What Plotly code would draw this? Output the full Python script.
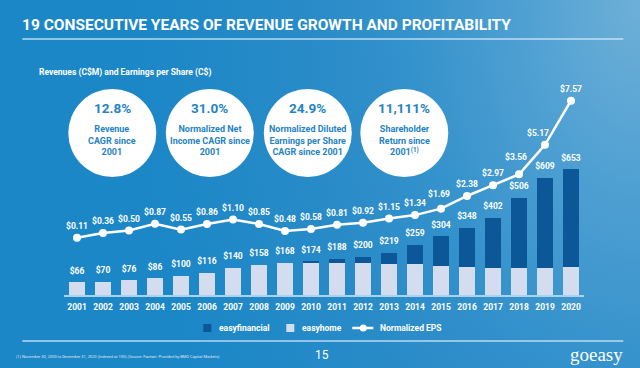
import base64
import plotly.graph_objects as go

# ---------------- data ----------------
years = list(range(2001, 2021))
year_labels = [str(y) for y in years]
revenue_total = [66, 70, 76, 86, 100, 116, 140, 158, 168, 174,
                 188, 200, 219, 259, 304, 348, 402, 506, 609, 653]
easyhome = [66, 70, 76, 86, 100, 116, 140, 158, 168, 171,
            165, 165, 161, 159, 152, 145, 140, 140, 142, 146]
easyfinancial = [0, 0, 0, 0, 0, 0, 0, 0, 0, 3,
                 23, 35, 58, 100, 152, 203, 262, 366, 467, 507]
eps = [0.11, 0.36, 0.50, 0.87, 0.55, 0.86, 1.10, 0.85, 0.48, 0.58,
       0.81, 0.92, 1.15, 1.34, 1.69, 2.38, 2.97, 3.56, 5.17, 7.57]
revenue_labels = ["$%d" % v for v in revenue_total]
eps_labels = ["$%.2f" % v for v in eps]

kpi_values = ["12.8%", "31.0%", "24.9%", "11,111%"]
kpi_texts = ["Revenue<br>CAGR since<br>2001",
             "Normalized Net<br>Income CAGR since<br>2001",
             "Normalized Diluted<br>Earnings per Share<br>CAGR since 2001",
             "Shareholder<br>Return since<br>2001<sup>(1)</sup>"]

title = "19 CONSECUTIVE YEARS OF REVENUE GROWTH AND PROFITABILITY"
subtitle = "Revenues (C$M) and Earnings per Share (C$)"
footnote = ("(1) November 30, 2000 to December 31, 2020 (Indexed at 100) "
            "(Source: Factset. Provided by BMO Capital Markets)")

# ---------------- geometry ----------------
W, H = 640, 368
L, R, T, B = 63.7, 56.3, 90, 73
PW, PH = W - L - R, H - T - B
REV_RANGE = [0, PH / 0.1925]
EPS_RANGE = [-(H - B - 239.7) / 18.36, (239.7 - T) / 18.36]

FONT = "Roboto, Lato, sans-serif"
WHITE = "#ffffff"
CIRCLE_TXT = "#2583c4"
DARK = "#0b5797"
LIGHT = "#d4dcef"


def px(x):
    return (x - L) / PW


def py(y):
    return (H - B - y) / PH


# background gradient as inline svg
svg = ('<svg xmlns="http://www.w3.org/2000/svg" width="640" height="368" '
       'viewBox="0 0 640 368" preserveAspectRatio="none"><defs>'
       '<radialGradient id="g" gradientUnits="userSpaceOnUse" cx="640" cy="0" r="500" '
       'gradientTransform="translate(640,0) scale(1,1.6) translate(-640,0)">'
       '<stop offset="0" stop-color="#6eb0d8"/>'
       '<stop offset="0.25" stop-color="#4d9fd2"/>'
       '<stop offset="0.48" stop-color="#3391cb"/>'
       '<stop offset="0.67" stop-color="#288bc8"/>'
       '<stop offset="1" stop-color="#1c87c7"/>'
       '</radialGradient></defs><rect width="640" height="368" fill="url(#g)"/></svg>')
svg_uri = "data:image/svg+xml;base64," + base64.b64encode(svg.encode()).decode()

fig = go.Figure()

fig.add_trace(go.Bar(x=years, y=easyhome, name="easyhome", marker_color=LIGHT,
                     marker_line_width=0, width=0.65, showlegend=False,
                     hovertemplate="%{x}: $%{y}M<extra>easyhome</extra>"))
fig.add_trace(go.Bar(x=years, y=easyfinancial, name="easyfinancial", marker_color=DARK,
                     marker_line_width=0, width=0.65, showlegend=False,
                     hovertemplate="%{x}: $%{y}M<extra>easyfinancial</extra>"))
fig.add_trace(go.Scatter(x=years, y=revenue_total, mode="markers+text", text=revenue_labels,
                         textposition="top center",
                         marker=dict(size=9, color="rgba(0,0,0,0)"),
                         textfont=dict(family=FONT, size=8.5, color=WHITE, weight="bold"),
                         showlegend=False, hoverinfo="skip"))
fig.add_trace(go.Scatter(x=years, y=eps, yaxis="y2", mode="lines+markers", name="Normalized EPS",
                         line=dict(color=WHITE, width=2.5),
                         marker=dict(size=8, color=WHITE), showlegend=False,
                         hovertemplate="%{x}: $%{y:.2f}<extra>EPS</extra>"))

# EPS labels (small nudges where the line would cross the label)
nudge_x = {2015: -2, 2018: -3, 2019: -7}
nudge_y = {2015: 3, 2018: 5}
annotations = []
for yr, v, lab in zip(years, eps, eps_labels):
    annotations.append(dict(x=yr, y=v, xref="x", yref="y2", text=lab, showarrow=False,
                            xshift=nudge_x.get(yr, 0), yshift=12 + nudge_y.get(yr, 0),
                            font=dict(family=FONT, size=8.5, color=WHITE, weight="bold")))


def ann(x, y, text, size, color=WHITE, xanchor="left", weight="bold", family=FONT):
    annotations.append(dict(x=px(x), y=py(y), xref="paper", yref="paper", text=text,
                            showarrow=False, xanchor=xanchor, yanchor="middle",
                            font=dict(family=family, size=size, color=color, weight=weight)))


ann(20, 25, title, 15.5)
ann(37, 72.5, subtitle, 8.5)

shapes = []
shapes.append(dict(type="line", xref="paper", yref="paper", x0=px(22), x1=px(623),
                   y0=py(39), y1=py(39), line=dict(color="rgba(220,238,250,0.8)", width=1.5)))
shapes.append(dict(type="line", xref="paper", yref="paper", x0=px(22), x1=px(623),
                   y0=py(341), y1=py(341), line=dict(color="rgba(220,238,250,0.8)", width=1.5)))

centers = [112, 209.5, 307.5, 404]
for cx, val, txt in zip(centers, kpi_values, kpi_texts):
    r = 44
    shapes.append(dict(type="circle", xref="paper", yref="paper", x0=px(cx - r), x1=px(cx + r),
                       y0=py(133 + r), y1=py(133 - r), fillcolor=WHITE, line_width=0, layer="below"))
    ann(cx, 108, val, 13.5, color=CIRCLE_TXT, xanchor="center")
    ann(cx, 140, txt, 9, color=CIRCLE_TXT, xanchor="center")

# legend (custom)
shapes.append(dict(type="rect", xref="paper", yref="paper", x0=px(203), x1=px(211),
                   y0=py(332), y1=py(324), fillcolor=DARK, line_width=0))
ann(217, 328, "easyfinancial", 8.5)
shapes.append(dict(type="rect", xref="paper", yref="paper", x0=px(286), x1=px(294),
                   y0=py(332), y1=py(324), fillcolor=LIGHT, line_width=0))
ann(300, 328, "easyhome", 8.5)
shapes.append(dict(type="line", xref="paper", yref="paper", x0=px(352), x1=px(373),
                   y0=py(328), y1=py(328), line=dict(color=WHITE, width=2.5)))
shapes.append(dict(type="circle", xref="paper", yref="paper", x0=px(359.5), x1=px(366.5),
                   y0=py(331.5), y1=py(324.5), fillcolor=WHITE, line_width=0))
ann(378, 328, "Normalized EPS", 8.5)

# footer
ann(14, 356, footnote, 4, color="rgba(255,255,255,0.85)", weight="normal")
ann(322, 355, "15", 12, xanchor="center", weight="normal")
ann(625, 354, "goeasy", 19, xanchor="right", weight="normal", family="Liberation Serif, DejaVu Serif, serif")

fig.update_layout(
    width=W, height=H,
    margin=dict(l=L, r=R, t=T, b=B, pad=0, autoexpand=False),
    paper_bgcolor="#1c87c7", plot_bgcolor="rgba(0,0,0,0)",
    barmode="stack", bargap=0.35,
    font=dict(family=FONT, color=WHITE),
    xaxis=dict(range=[2000.5, 2020.5], tickvals=years, ticktext=year_labels,
               showgrid=False, zeroline=False, showline=True, linecolor="#a9d2ec", linewidth=1.5,
               ticks="", tickangle=0, automargin=False, ticklabelstandoff=3,
               tickfont=dict(family=FONT, size=8.5, color=WHITE, weight="bold"),
               fixedrange=True),
    yaxis=dict(range=REV_RANGE, visible=False, fixedrange=True, automargin=False),
    yaxis2=dict(range=EPS_RANGE, overlaying="y", visible=False, fixedrange=True, automargin=False),
    images=[dict(source=svg_uri, xref="paper", yref="paper", x=px(0), y=py(0),
                 sizex=W / PW, sizey=H / PH, xanchor="left", yanchor="top",
                 sizing="stretch", layer="below")],
    shapes=shapes,
    annotations=annotations,
    showlegend=False,
)

fig.write_html("out.html", config={"displayModeBar": False},
               post_script="document.body.style.margin='0';document.body.style.padding='0';"
                           "document.body.style.overflow='hidden';")
